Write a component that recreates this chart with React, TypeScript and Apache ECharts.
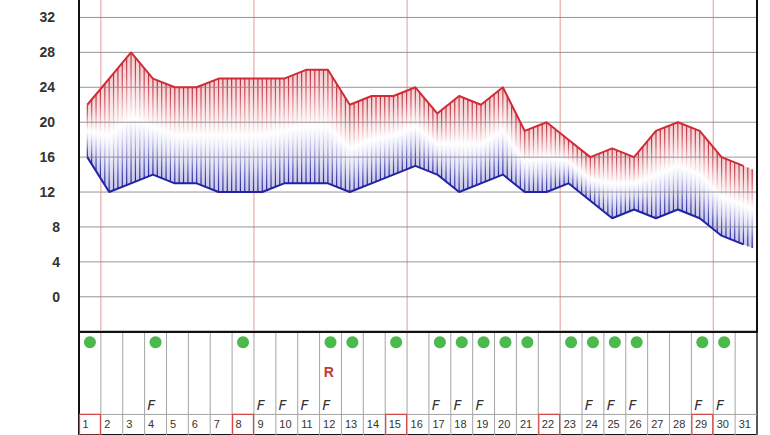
import React, { useEffect, useRef } from "react";
import * as echarts from "echarts";

// ---- data ----
const DAYS = [1, 2, 3, 4, 5, 6, 7, 8, 9, 10, 11, 12, 13, 14, 15, 16, 17, 18, 19, 20, 21, 22, 23, 24, 25, 26, 27, 28, 29, 30, 31];
const MAX_TEMPS = [22, 25, 28, 25, 24, 24, 25, 25, 25, 25, 26, 26, 22, 23, 23, 24, 21, 23, 22, 24, 19, 20, 18, 16, 17, 16, 19, 20, 19, 16, 15];
const MIN_TEMPS = [16, 12, 13, 14, 13, 13, 12, 12, 12, 13, 13, 13, 12, 13, 14, 15, 14, 12, 13, 14, 12, 12, 13, 11, 9, 10, 9, 10, 9, 7, 6];
const NEXT_MAX = 14; // the following day, only partly shown at the right edge
const NEXT_MIN = 5;
const WEEK_MARK_DAYS = [1, 8, 15, 22, 29];
const DOT_DAYS = [1, 4, 8, 12, 13, 15, 17, 18, 19, 20, 21, 23, 24, 25, 26, 29, 30];
const F_DAYS = [4, 9, 10, 11, 12, 17, 18, 19, 24, 25, 26, 29, 30];
const R_DAYS = [12];
const Y_TICKS = [0, 4, 8, 12, 16, 20, 24, 28, 32];

// ---- axis settings ----
const Y_MIN = -4;
const Y_MAX = 34;
const Y_STEP = 4;

// ---- layout / style constants ----
const POINT_OFFSET = 0.62; // data point position inside a day cell (from the cell's right edge)
const HATCH_PER_DAY = 5;
const TAIL_FRACTION = 0.46;
const PANEL_DEPTH = 108;
const DOT_ROW = 11;
const R_ROW = 42.5;
const F_ROW = 76.5;
const NUM_LINE_ROW = 86.5;
const NUM_ROW = 96.5;

const LINE_STOPS = [
  { offset: 0, color: "#bb2a38" },
  { offset: 0.15, color: "#cc5561" },
  { offset: 0.3, color: "#e49ca3" },
  { offset: 0.45, color: "#f8e4e6" },
  { offset: 0.5, color: "#ffffff" },
  { offset: 0.58, color: "#e4e4f6" },
  { offset: 0.72, color: "#a6a6dc" },
  { offset: 0.88, color: "#4e4eb2" },
  { offset: 1, color: "#222294" },
];
const FILL_STOPS = [
  { offset: 0, color: "#f5cdd0" },
  { offset: 0.2, color: "#f9e2e4" },
  { offset: 0.42, color: "#fdf5f6" },
  { offset: 0.5, color: "#ffffff" },
  { offset: 0.6, color: "#f5f5fc" },
  { offset: 0.8, color: "#e2e2f4" },
  { offset: 1, color: "#c6c6ea" },
];

function grad(y0: number, y1: number, stops: any[]) {
  return new echarts.graphic.LinearGradient(0, y0, 0, y1, stops, true);
}

export default function App() {
  const ref = useRef<HTMLDivElement>(null);

  useEffect(() => {
    if (!ref.current) return;
    const chart = echarts.init(ref.current, null, { renderer: "svg" });

    const px = (d: number) => d - POINT_OFFSET;
    const maxData = DAYS.map((d, i) => [px(d), MAX_TEMPS[i]]);
    const minData = DAYS.map((d, i) => [px(d), MIN_TEMPS[i]]);
    const his = [...MAX_TEMPS, NEXT_MAX];
    const los = [...MIN_TEMPS, NEXT_MIN];
    const segData = DAYS.map((d, i) => [
      px(d),
      px(d + 1),
      his[i],
      his[i + 1],
      los[i],
      los[i + 1],
      i === DAYS.length - 1 ? TAIL_FRACTION : 1,
    ]);

    const lerp = (a: number, b: number, t: number) => a + (b - a) * t;

    const labelRich = {
      w: { fontSize: 14, fontWeight: "bold", color: "#333", fontFamily: "Arial", padding: [0, 5, 0, 0] },
      n: { fontSize: 14, fontWeight: "bold", color: "#333", fontFamily: "Arial" },
    };

    const option: any = {
      animation: false,
      backgroundColor: "#ffffff",
      textStyle: { fontFamily: "Arial" },
      grid: [
        { left: 79, right: 13, top: 0, bottom: 103.3, show: false },
        { left: 79, right: 13, top: 331.7, bottom: -4.7, show: true, borderColor: "#111", borderWidth: 2, backgroundColor: "transparent" },
      ],
      xAxis: [
        {
          type: "value",
          gridIndex: 0,
          min: 0,
          max: DAYS.length,
          z: 5,
          axisLine: { show: true, onZero: false, lineStyle: { color: "#111", width: 2 } },
          axisTick: { show: false },
          axisLabel: { show: false },
          splitLine: { show: false },
        },
        { type: "value", gridIndex: 1, min: 0, max: DAYS.length, show: false },
      ],
      yAxis: [
        {
          type: "value",
          gridIndex: 0,
          min: Y_MIN,
          max: Y_MAX,
          interval: Y_STEP,
          z: 5,
          axisLine: { show: true, onZero: false, lineStyle: { color: "#111", width: 2 } },
          axisTick: { show: false },
          splitLine: { show: false },
          axisLabel: {
            margin: 19,
            formatter: (v: number) => {
              if (!Y_TICKS.includes(v)) return "";
              return v >= 10 ? `{w|${v}}` : `{n|${v}}`;
            },
            rich: labelRich,
          },
        },
        { type: "value", gridIndex: 1, min: 0, max: PANEL_DEPTH, inverse: true, show: false },
        {
          type: "value",
          gridIndex: 0,
          position: "right",
          min: Y_MIN,
          max: Y_MAX,
          z: 5,
          axisLine: { show: true, onZero: false, lineStyle: { color: "#111", width: 2 } },
          axisTick: { show: false },
          axisLabel: { show: false },
          splitLine: { show: false },
        },
      ],
      series: [
        {
          type: "custom",
          name: "weeks",
          xAxisIndex: 0,
          yAxisIndex: 0,
          z: 1,
          silent: true,
          clip: false,
          data: WEEK_MARK_DAYS.map((d) => [d]),
          renderItem: (_p: any, api: any) => {
            const d = api.value(0);
            const a = api.coord([d, Y_MIN]);
            const b = api.coord([d, Y_MAX]);
            return {
              type: "line",
              shape: { x1: a[0], y1: a[1], x2: b[0], y2: b[1] },
              style: { stroke: "#e29a9a", lineWidth: 1 },
            };
          },
        },
        {
          type: "custom",
          name: "hatch",
          xAxisIndex: 0,
          yAxisIndex: 0,
          z: 2,
          silent: true,
          clip: false,
          data: segData,
          renderItem: (_p: any, api: any) => {
            const x0 = api.value(0), x1 = api.value(1);
            const h0 = api.value(2), h1 = api.value(3);
            const l0 = api.value(4), l1 = api.value(5);
            const frac = api.value(6);
            const children: any[] = [];
            for (let k = 0; k < HATCH_PER_DAY; k++) {
              const t0 = k / HATCH_PER_DAY;
              if (t0 > frac + 1e-6) break;
              const t1 = Math.min((k + 1) / HATCH_PER_DAY, frac);
              const a = api.coord([lerp(x0, x1, t0), lerp(h0, h1, t0)]);
              const b = api.coord([lerp(x0, x1, t1), lerp(h0, h1, t1)]);
              const c = api.coord([lerp(x0, x1, t1), lerp(l0, l1, t1)]);
              const e = api.coord([lerp(x0, x1, t0), lerp(l0, l1, t0)]);
              if (t1 > t0) {
                children.push({
                  type: "polygon",
                  shape: { points: [a, b, c, e] },
                  style: { fill: grad((a[1] + b[1]) / 2, (c[1] + e[1]) / 2, FILL_STOPS) },
                });
              }
              children.push({
                type: "line",
                shape: { x1: a[0], y1: a[1], x2: e[0], y2: e[1] },
                style: { stroke: grad(a[1], e[1], LINE_STOPS), lineWidth: 1.2 },
              });
            }
            return { type: "group", children };
          },
        },
        {
          type: "custom",
          name: "gridlines",
          xAxisIndex: 0,
          yAxisIndex: 0,
          z: 3,
          silent: true,
          clip: false,
          data: Y_TICKS.map((v) => [v]),
          renderItem: (_p: any, api: any) => {
            const v = api.value(0);
            const a = api.coord([0, v]);
            const b = api.coord([DAYS.length, v]);
            return {
              type: "line",
              shape: { x1: a[0], y1: a[1], x2: b[0], y2: b[1] },
              style: { stroke: "#8a8a8a", lineWidth: 1, opacity: 0.9 },
            };
          },
        },
        {
          type: "line",
          name: "max",
          xAxisIndex: 0,
          yAxisIndex: 0,
          z: 4,
          data: maxData,
          symbol: "none",
          lineStyle: { color: "#d12c36", width: 2 },
        },
        {
          type: "line",
          name: "min",
          xAxisIndex: 0,
          yAxisIndex: 0,
          z: 4,
          data: minData,
          symbol: "none",
          lineStyle: { color: "#2222a6", width: 2 },
        },
        {
          type: "custom",
          name: "cells",
          xAxisIndex: 1,
          yAxisIndex: 1,
          z: 1,
          silent: true,
          clip: false,
          data: DAYS.map((d) => [d, WEEK_MARK_DAYS.includes(d) ? 1 : 0]),
          renderItem: (_p: any, api: any) => {
            const d = api.value(0);
            const boxed = api.value(1);
            const top = api.coord([d - 1, 0]);
            const bot = api.coord([d, PANEL_DEPTH]);
            const lineY = api.coord([d, NUM_LINE_ROW])[1];
            const numY = api.coord([d, NUM_ROW])[1];
            const children: any[] = [
              { type: "line", shape: { x1: bot[0], y1: top[1], x2: bot[0], y2: bot[1] }, style: { stroke: "#a4a4a4", lineWidth: 1 } },
              { type: "line", shape: { x1: top[0], y1: lineY, x2: bot[0], y2: lineY }, style: { stroke: "#a4a4a4", lineWidth: 1 } },
              {
                type: "text",
                style: {
                  text: String(d),
                  x: top[0] + 3.5,
                  y: numY,
                  fill: "#333",
                  fontSize: 11,
                  fontFamily: "Arial",
                  align: "left",
                  verticalAlign: "middle",
                },
              },
            ];
            if (boxed) {
              children.push({
                type: "rect",
                shape: { x: top[0] + 0.5, y: lineY, width: bot[0] - top[0] - 1, height: bot[1] - lineY },
                style: { fill: "none", stroke: "#d24a4a", lineWidth: 1.2 },
                z2: 5,
              });
            }
            return { type: "group", children };
          },
        },
        {
          type: "scatter",
          name: "dots",
          xAxisIndex: 1,
          yAxisIndex: 1,
          z: 3,
          silent: true,
          symbol: "circle",
          symbolSize: 12,
          itemStyle: { color: "#1ea81e" },
          data: DOT_DAYS.map((d) => [d - 0.5, DOT_ROW]),
        },
        {
          type: "custom",
          name: "F",
          xAxisIndex: 1,
          yAxisIndex: 1,
          z: 3,
          silent: true,
          clip: false,
          data: F_DAYS.map((d) => [d]),
          renderItem: (_p: any, api: any) => {
            const d = api.value(0);
            const p = api.coord([d - 0.69, F_ROW]);
            return {
              type: "text",
              style: {
                text: "F",
                x: p[0],
                y: p[1],
                fill: "#333",
                fontSize: 14,
                fontStyle: "italic",
                fontFamily: "DejaVu Sans",
                align: "center",
                verticalAlign: "middle",
              },
            };
          },
        },
        {
          type: "custom",
          name: "R",
          xAxisIndex: 1,
          yAxisIndex: 1,
          z: 3,
          silent: true,
          clip: false,
          data: R_DAYS.map((d) => [d]),
          renderItem: (_p: any, api: any) => {
            const d = api.value(0);
            const p = api.coord([d - 0.58, R_ROW]);
            return {
              type: "text",
              style: {
                text: "R",
                x: p[0],
                y: p[1],
                fill: "#c43a3a",
                fontSize: 14,
                fontWeight: "bold",
                fontFamily: "Arial",
                align: "center",
                verticalAlign: "middle",
              },
            };
          },
        },
      ],
    };

    chart.setOption(option);
    return () => chart.dispose();
  }, []);

  return <div ref={ref} style={{ position: "absolute", left: 0, top: 0, width: 770, height: 435 }} />;
}
